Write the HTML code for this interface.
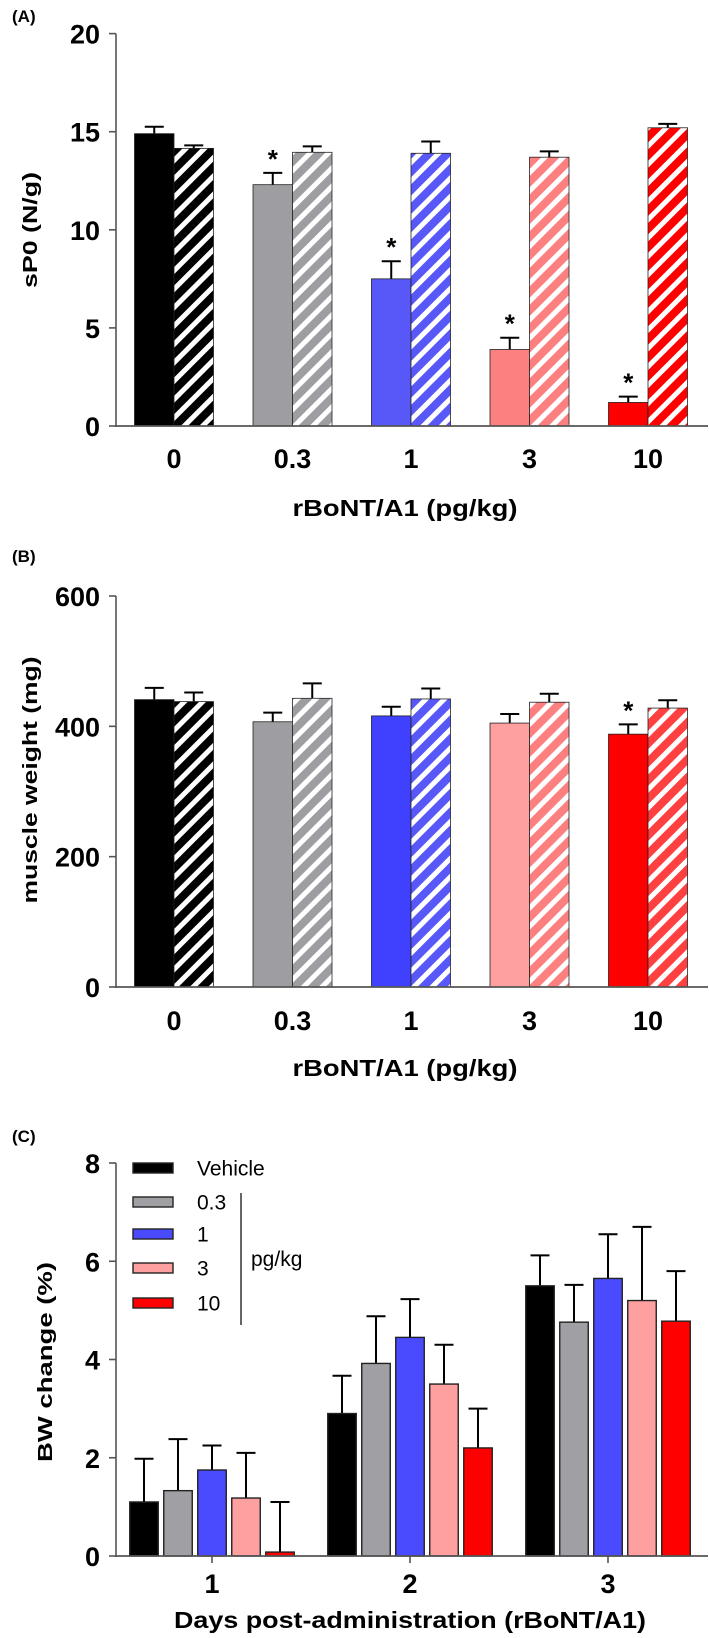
<!DOCTYPE html>
<html><head><meta charset="utf-8"><style>
body{margin:0;background:#fff}
svg{display:block}
text{font-family:"Liberation Sans",sans-serif}
</style></head><body>
<svg id="fig" width="709" height="1638" viewBox="0 0 709 1638" xmlns="http://www.w3.org/2000/svg">
<defs></defs>
</svg>
<script>
// ---------- Panel A data ----------
const catsA = ["0","0.3","1","3","10"];
const solidA = [14.9,12.3,7.5,3.9,1.2];
const solidErrA = [0.35,0.6,0.9,0.6,0.3];
const hatchA = [14.15,13.95,13.9,13.7,15.2];
const hatchErrA = [0.15,0.3,0.6,0.3,0.2];
const starA = [false,true,true,true,true];
const ticksA = [0,5,10,15,20];
const colorsA = ["#000000","#9e9ea2","#5858f8","#fc8080","#ff0000"];
const hatchColorsA = ["#000000","#9e9ea2","#5858f8","#fc8080","#ff0000"];
// ---------- Panel B data ----------
const catsB = ["0","0.3","1","3","10"];
const solidB = [441,407,416,405,388];
const solidErrB = [18,14,14,14,15];
const hatchB = [438,443,442,437,428];
const hatchErrB = [14,23,16,13,12];
const starB = [false,false,false,false,true];
const ticksB = [0,200,400,600];
const colorsB = ["#000000","#9e9ea2","#4040ff","#ffa0a0","#ff0000"];
const hatchColorsB = ["#000000","#9e9ea2","#5858f8","#fc8080","#ff4040"];
// ---------- Panel C data ----------
const daysC = ["1","2","3"];
const seriesNamesC = ["Vehicle","0.3","1","3","10"];
const vehicleC = [1.1,2.9,5.5];
const d03C = [1.33,3.92,4.76];
const d1C = [1.75,4.45,5.65];
const d3C = [1.18,3.5,5.2];
const d10C = [0.08,2.2,4.78];
const vehicleErrC = [0.88,0.77,0.62];
const d03ErrC = [1.05,0.96,0.76];
const d1ErrC = [0.5,0.78,0.9];
const d3ErrC = [0.92,0.8,1.5];
const d10ErrC = [1.02,0.8,1.02];
const ticksC = [0,2,4,6,8];
const colorsC = ["#000000","#a0a0a4","#4a4aff","#ffa0a0","#ff0000"];

const NS="http://www.w3.org/2000/svg";
const svg=document.getElementById('fig');
const defs=svg.querySelector('defs');
function mk(tag,attrs,parent){const e=document.createElementNS(NS,tag);for(const k in attrs)e.setAttribute(k,attrs[k]);(parent||svg).appendChild(e);return e;}
function txt(s,attrs,parent){const t=mk('text',attrs,parent);t.textContent=s;return t;}

let pid=0;
function hatch(color){
  const id='h'+(pid++);
  const p=mk('pattern',{id:id,patternUnits:'userSpaceOnUse',width:13,height:13,patternTransform:'rotate(45)'},defs);
  mk('rect',{x:0,y:0,width:13,height:13,fill:color},p);
  mk('rect',{x:0,y:0,width:5,height:13,fill:'#ffffff'},p);
  return 'url(#'+id+')';
}

function axisY(x,y0,y1,ticks,yScale,g,name){
  const ax=mk('line',{x1:x,y1:y0+1,x2:x,y2:y1,stroke:'#555',"stroke-width":1.6},g);
  
  
  ticks.forEach(v=>{
    const y=yScale(v);
    mk('line',{x1:x-7,y1:y,x2:x,y2:y,stroke:'#555',"stroke-width":1.6},g);
    const t=txt(String(v),{x:x-16,y:y+10,"text-anchor":'end',"font-size":27,"font-weight":'bold',fill:'#000'},g);
    
    
  });
}

function errBar(cx,yTop,yBar,g){
  mk('line',{x1:cx,y1:yBar,x2:cx,y2:yTop,stroke:'#000',"stroke-width":2},g);
  mk('line',{x1:cx-9.5,y1:yTop,x2:cx+9.5,y2:yTop,stroke:'#000',"stroke-width":2},g);
}

function pairedPanel(name,cats,solid,solidErr,hv,hErr,stars,ticks,cols,hcols,y0,yTopPx,ymax,tickLabY,titleY,ytitle,ytitleY,ytitleLen){
  const g=mk('g',{});
  
  
  const yScale=v=>y0-(v/ymax)*(y0-yTopPx);
  const xc=i=>174+i*118.5;
  const bw=39.5;
  cats.forEach((c,i)=>{
    const cx=xc(i);
    const ys=yScale(solid[i]);
    errBar(cx-bw/2,yScale(solid[i]+solidErr[i]),ys,g);
    const r=mk('rect',{x:cx-bw,y:ys,width:bw,height:y0-ys,fill:cols[i],stroke:'#222',"stroke-width":0.8},g);
    
    
    const yh=yScale(hv[i]);
    errBar(cx+bw/2,yScale(hv[i]+hErr[i]),yh,g);
    const r2=mk('rect',{x:cx,y:yh,width:bw,height:y0-yh,fill:hatch(hcols[i]),stroke:'#222',"stroke-width":0.8},g);
    
    
    if(stars[i]){
      const s=txt('*',{x:cx-bw/2,y:yScale(solid[i]+solidErr[i])-5,"text-anchor":'middle',"font-size":26,"font-weight":'bold'},g);
      
      
    }
    const tl=txt(c,{x:cx,y:tickLabY,"text-anchor":'middle',"font-size":27,"font-weight":'bold'},g);
    
    
  });
  axisY(116,y0,yTopPx,ticks,yScale,g,name);
  const xa=mk('line',{x1:115,y1:y0,x2:708,y2:y0,stroke:'#555',"stroke-width":1.8},g);
  
  
  const xt=txt('rBoNT/A1 (pg/kg)',{x:405,y:titleY,"text-anchor":'middle',"font-size":23,"font-weight":'bold',textLength:225,lengthAdjust:'spacingAndGlyphs'},g);
  
  
  const yt=txt(ytitle,{x:0,y:0,"text-anchor":'middle',"font-size":20,"font-weight":'bold',textLength:ytitleLen,lengthAdjust:'spacingAndGlyphs',transform:`translate(37,${ytitleY}) rotate(-90)`},g);
  
  
}

const la=txt('(A)',{x:12,y:22,"font-size":17,"font-weight":'bold'});


const lb=txt('(B)',{x:12,y:562,"font-size":17,"font-weight":'bold'});


const lc=txt('(C)',{x:12,y:1142,"font-size":17,"font-weight":'bold'});



pairedPanel('a',catsA,solidA,solidErrA,hatchA,hatchErrA,starA,ticksA,colorsA,hatchColorsA,426,33.6,20,468,516,'sP0 (N/g)',230,116);
pairedPanel('b',catsB,solidB,solidErrB,hatchB,hatchErrB,starB,ticksB,colorsB,hatchColorsB,987,596,600,1030,1076,'muscle weight (mg)',780,247);

// ---------- Panel C ----------
(function(){
  const g=mk('g',{});
  
  
  const y0=1556, yTop=1163, ymax=8;
  const yScale=v=>y0-(v/ymax)*(y0-yTop);
  const series=[vehicleC,d03C,d1C,d3C,d10C];
  const errs=[vehicleErrC,d03ErrC,d1ErrC,d3ErrC,d10ErrC];
  const groupX=i=>212+i*198;
  const bw=28.5, step=34;
  daysC.forEach((d,i)=>{
    const gc=groupX(i);
    series.forEach((s,k)=>{
      const x=gc+(k-2)*step-bw/2;
      const y=yScale(s[i]);
      errBar(x+bw/2,yScale(s[i]+errs[k][i]),y,g);
      const r=mk('rect',{x:x,y:y,width:bw,height:y0-y,fill:colorsC[k],stroke:'#222',"stroke-width":1.4},g);
      
      
    });
    mk('line',{x1:gc,y1:y0,x2:gc,y2:y0+7,stroke:'#555',"stroke-width":1.6},g);
    const tl=txt(d,{x:gc,y:1593,"text-anchor":'middle',"font-size":27,"font-weight":'bold'},g);
    
    
  });
  axisY(116,y0,yTop,ticksC,yScale,g,'c');
  const xa=mk('line',{x1:115,y1:y0,x2:708,y2:y0,stroke:'#555',"stroke-width":1.8},g);
  
  
  const xt=txt('Days post-administration (rBoNT/A1)',{x:410,y:1628,"text-anchor":'middle',"font-size":23,"font-weight":'bold',textLength:472,lengthAdjust:'spacingAndGlyphs'},g);
  
  
  const yt=txt('BW change (%)',{x:0,y:0,"text-anchor":'middle',"font-size":20,"font-weight":'bold',textLength:200,lengthAdjust:'spacingAndGlyphs',transform:'translate(52,1362) rotate(-90)'},g);
  
  
  const lg=mk('g',{},g);
  
  
  const ly=[1168,1202,1234,1268,1303];
  seriesNamesC.forEach((n,k)=>{
    const e=mk('g',{},lg);
    
    
    mk('rect',{x:133,y:ly[k]-5,width:40,height:10,fill:colorsC[k],stroke:'#222',"stroke-width":1.4},e);
    txt(n,{x:197,y:ly[k]+7.5,"font-size":21},e);
  });
  mk('line',{x1:241,y1:1193,x2:241,y2:1325,stroke:'#000',"stroke-width":1.2},lg);
  txt('pg/kg',{x:251,y:1266,"font-size":21},lg);
})();
</script>
</body></html>
